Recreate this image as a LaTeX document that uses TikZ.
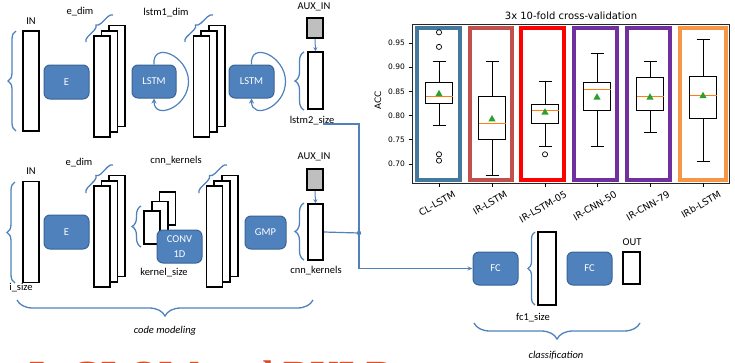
\documentclass[tikz,border=0pt]{standalone}
\usepackage{fontspec}
\setmainfont{Carlito}
\newfontfamily\chartfont{DejaVu Sans}
\newfontfamily\headfont{Liberation Serif}
\usetikzlibrary{arrows.meta,decorations.pathreplacing,positioning,calc}
\definecolor{blkfill}{HTML}{4F81BD}
\definecolor{blkline}{HTML}{3A6494}
\definecolor{linkc}{HTML}{4F81BD}
\definecolor{auxgray}{HTML}{BFBFBF}
\definecolor{clblue}{HTML}{44799F}
\definecolor{irbrick}{HTML}{C0504D}
\definecolor{irred}{HTML}{FF0000}
\definecolor{irpurple}{HTML}{7030A0}
\definecolor{irborange}{HTML}{F79646}
\definecolor{medorange}{HTML}{FF7F0E}
\definecolor{meangreen}{HTML}{2CA02C}
\definecolor{headred}{HTML}{D4522A}
\newcommand\accy[1]{(43+(0.95-#1)*484)}
\tikzset{
  blk/.style={draw=blkline, fill=blkfill, line width=1pt, rounded corners=6pt, text=white,
    font=\fontsize{10.5}{13}\selectfont, minimum width=45pt, minimum height=34pt, inner sep=0pt, align=center},
  col/.style={draw=black, fill=white, line width=1.6pt, inner sep=0pt},
  auxbox/.style={col, fill=auxgray},
  lbl/.style={font=\fontsize{10.5}{12}\selectfont, inner sep=0pt},
  curly/.style={decorate, decoration={brace, amplitude=#1}, draw=linkc, line width=1.3pt},
  curly/.default=6pt,
  link/.style={draw=linkc, line width=1.2pt},
  selfloop/.style={link, -{Stealth[length=5pt,width=5pt]}},
  feed/.style={link, line width=1pt, -{Stealth[length=4pt,width=4pt]}},
  frame/.style={draw=#1, line width=4pt},
  tick/.style={font=\chartfont\fontsize{7.5}{9}\selectfont, inner sep=0pt}
}

\begin{document}
\begin{tikzpicture}[x=1pt, y=-1pt]
  \useasboundingbox (0,0) rectangle (735,362);

  % code modeling, lstm branch
  \node[col, minimum width=16pt, minimum height=100pt] (ina) at (31,81) {};
  \node[lbl] (inalbl) at (31,21) {IN};
  \draw[curly=8pt] (16,131) -- (16,31);
  \node[blk] (ea) at (66.5,82) {E};
  \foreach \i in {2,1,0}
    \node[col, minimum width=16pt, minimum height=101pt] (sa\i) at (102+7.6*\i, 86.5-5.3*\i) {};
  \node[lbl] (edima) at (80,12) {e\_dim};
  \draw[curly=5pt] (86,42) -- (113,15);
  \node[blk, minimum width=44pt, minimum height=33pt] (lstma) at (154,81.5) {LSTM};
  \draw[selfloop] (lstma.north) .. controls +(-2,-24) and +(0,-26) .. ([xshift=12]lstma.east)
    .. controls +(0,26) and +(0,22) .. (lstma.south);
  \foreach \i in {2,1,0}
    \node[col, minimum width=16pt, minimum height=101pt] (sb\i) at (201.5+7.6*\i, 86.5-5.3*\i) {};
  \node[lbl] (lstmdim) at (166,13) {lstm1\_dim};
  \draw[curly=5pt] (185,42) -- (213,15);
  \node[blk, minimum width=45pt, minimum height=33pt] (lstmb) at (251.5,81.5) {LSTM};
  \draw[selfloop] (lstmb.north) .. controls +(-2,-24) and +(0,-26) .. ([xshift=11]lstmb.east)
    .. controls +(0,26) and +(0,22) .. (lstmb.south);
  \node[auxbox, minimum width=16pt, minimum height=20pt] (auxa) at (315,28) {};
  \node[lbl] (auxalbl) at (314,7) {AUX\_IN};
  \node[col, minimum width=15pt, minimum height=57pt] (lstmcol) at (315.5,80.5) {};
  \draw[feed] (auxa.south) -- (lstmcol.north);
  \draw[curly=9pt] (304,110) -- (304,52);
  \node[lbl] (lstmlbl) at (312,121) {lstm2\_size};

  % code modeling, cnn branch
  \node[col, minimum width=16pt, minimum height=101pt] (inb) at (31,232) {};
  \node[lbl] (inblbl) at (31,171) {IN};
  \node[lbl] (isize) at (21,288) {i\_size};
  \draw[curly=8pt] (15,283) -- (15,182);
  \node[blk] (eb) at (66.5,232) {E};
  \foreach \i in {2,1,0}
    \node[col, minimum width=16pt, minimum height=101pt] (sc\i) at (102+7.6*\i, 236.5-5.3*\i) {};
  \node[lbl] (edimb) at (79,163) {e\_dim};
  \draw[curly=5pt] (86,193) -- (113,165);
  \foreach \i in {2,1,0}
    \node[col, minimum width=16pt, minimum height=33pt] (kr\i) at (152+7.7*\i, 227.5-9.5*\i) {};
  \draw[curly=9pt] (141,247) -- (141,206);
  \node[blk, minimum width=45pt, minimum height=33pt] (conv) at (179.5,246.5) {CONV\\[2pt]1D};
  \node[lbl] (ksize) at (164,273) {kernel\_size};
  \node[lbl] (kernlbl) at (176,161) {cnn\_kernels};
  \foreach \i in {2,1,0}
    \node[col, minimum width=16pt, minimum height=101pt] (sd\i) at (214.5+7.7*\i, 236.5-5.3*\i) {};
  \draw[curly=5pt] (199,193) -- (227,165);
  \node[blk, minimum width=41pt, minimum height=33pt] (gmp) at (265.5,232.5) {GMP};
  \node[auxbox, minimum width=16pt, minimum height=21pt] (auxb) at (315,179.5) {};
  \node[lbl] (auxblbl) at (314,157) {AUX\_IN};
  \node[col, minimum width=15pt, minimum height=56pt] (cnncol) at (315.5,232) {};
  \draw[feed] (auxb.south) -- (cnncol.north);
  \draw[curly=9pt] (304,260) -- (304,203);
  \node[lbl] (cnnlbl) at (316,271) {cnn\_kernels};
  \draw[curly=16pt] (313,300) -- (17,300);
  \node[lbl, font=\fontsize{10.5}{12}\selectfont\itshape] (codelbl) at (165,331) {code modeling};

  % classification
  \node[blk, minimum width=45pt, minimum height=33pt] (fca) at (495.5,268.5) {FC};
  \node[col, minimum width=18pt, minimum height=73pt] (fccol) at (547,268.5) {};
  \draw[curly=7pt] (535,305) -- (535,232);
  \node[lbl] (fclbl) at (533,318) {fc1\_size};
  \node[blk, minimum width=45pt, minimum height=33pt] (fcb) at (589.5,268.5) {FC};
  \node[col, minimum width=17pt, minimum height=32pt] (outcol) at (631.5,268) {};
  \node[lbl] (outlbl) at (632,242) {OUT};
  \draw[curly=16pt] (640,323) -- (474,323);
  \node[lbl, font=\fontsize{10.5}{12}\selectfont\itshape] (clslbl) at (556,355) {classification};

  \coordinate (tap) at (323,124);
  \coordinate (jn) at (359,233);
  \draw[link, -{Stealth[length=5pt,width=4pt]}] (tap) -| (jn) |- (fca.west);
  \draw[link] (cnncol.east) -- (jn);
  \fill[linkc] (jn) circle (2.2);

  % box plot
  \node[font=\chartfont\fontsize{10}{12}\selectfont, inner sep=0pt] (title) at (571,16) {3x 10-fold cross-validation};
  \node[tick, rotate=90, font=\chartfont\fontsize{8.8}{10}\selectfont] (acc) at (378,100) {ACC};
  \foreach \x/\w/\c in {438.5/23.5/clblue, 491/23/irbrick, 542.5/23.5/irred, 595.5/23.5/irpurple, 648.5/23.5/irpurple, 703/25/irborange}
    \draw[frame=\c] ({\x-\w+2},28) rectangle ({\x+\w-2},180);
  \draw[line width=0.8pt, black!85] (412,24) rectangle (729,183);
  \foreach \v in {0.95,0.90,0.85,0.80,0.75,0.70} {
    \draw[line width=0.8pt] (408.5,{\accy{\v}}) -- (412,{\accy{\v}});
    \node[tick, anchor=east] at (405,{\accy{\v}}) {\v};
  }
  \foreach \x/\lo/\qa/\md/\qb/\hi/\mn/\ly/\nm in {
      439/0.779/0.825/0.840/0.869/0.912/0.845/203.5/CL-LSTM,
      492/0.677/0.750/0.784/0.840/0.912/0.793/203/IR-LSTM,
      545/0.736/0.784/0.810/0.824/0.870/0.807/207/IR-LSTM-05,
      597/0.736/0.810/0.854/0.869/0.929/0.838/206/IR-CNN-50,
      650/0.765/0.810/0.840/0.879/0.912/0.838/206/IR-CNN-79,
      703/0.706/0.795/0.841/0.882/0.957/0.841/204.5/IRb-LSTM} {
    \draw[line width=0.8pt] ({\x-13.5},{\accy{\qa}}) rectangle ({\x+13.5},{\accy{\qb}});
    \draw[line width=0.8pt] (\x,{\accy{\qa}}) -- (\x,{\accy{\lo}});
    \draw[line width=0.8pt] (\x,{\accy{\qb}}) -- (\x,{\accy{\hi}});
    \draw[line width=0.8pt] ({\x-6.5},{\accy{\lo}}) -- ({\x+6.5},{\accy{\lo}});
    \draw[line width=0.8pt] ({\x-6.5},{\accy{\hi}}) -- ({\x+6.5},{\accy{\hi}});
    \draw[medorange, line width=0.8pt] ({\x-13.5},{\accy{\md}}) -- ({\x+13.5},{\accy{\md}});
    \fill[meangreen] (\x,{\accy{\mn}-4}) -- ++(-3.6,6.4) -- ++(7.2,0) -- cycle;
    \draw[line width=0.8pt] (\x,183) -- (\x,186.5);
    \node[rotate=30, font=\chartfont\fontsize{9.4}{11}\selectfont, inner sep=0pt] at ({\x-2},\ly) {\nm};
  }
  \foreach \x/\v in {439/0.972, 439/0.942, 439/0.720, 439/0.707, 545/0.720}
    \draw[line width=0.7pt] (\x,{\accy{\v}}) circle (2.6);

  % slide heading, cut by the lower edge
  \begin{scope}
    \clip (0,0) rectangle (735,362);
    \node[anchor=base west, inner sep=0pt, text=headred, font=\headfont\bfseries\fontsize{40}{40}\selectfont] (slidehead) at (27,388) {5. GLOW and BULB};
  \end{scope}
\end{tikzpicture}
\end{document}
